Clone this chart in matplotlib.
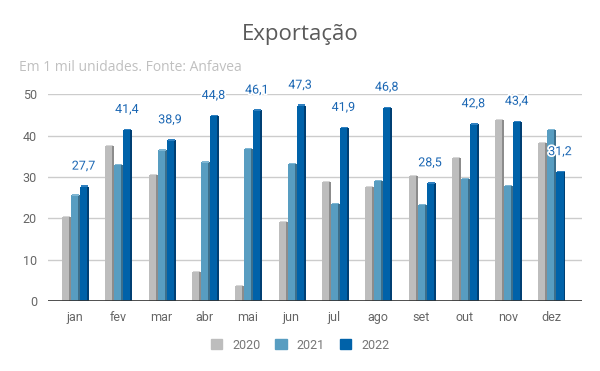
import numpy as np
import matplotlib.pyplot as plt
from matplotlib.patches import Patch
import matplotlib.patheffects as pe

meses = ['jan', 'fev', 'mar', 'abr', 'mai', 'jun', 'jul', 'ago', 'set', 'out', 'nov', 'dez']
anos = ['2020', '2021', '2022']
v2020 = [20.4, 37.5, 30.5, 7.1, 3.7, 19.2, 28.8, 27.6, 30.3, 34.6, 43.9, 38.3]
v2021 = [25.6, 32.9, 36.5, 33.6, 36.8, 33.2, 23.5, 29.1, 23.3, 29.6, 27.9, 41.4]
v2022 = [27.7, 41.4, 38.9, 44.8, 46.1, 47.3, 41.9, 46.8, 28.5, 42.8, 43.4, 31.2]

cores = ['#bdbdbd', '#589dc1', '#0062a9']
laterais = ['#8c8c8c', '#3c6f8c', '#003f73']
topos = ['#d6d6d6', '#7fb6d3', '#2f80c0']

fig = plt.figure(figsize=(6, 3.71), dpi=100)
ax = fig.add_axes([0.08, 0.1887, 0.89, 0.557])

x = np.arange(len(meses))
passo = 0.208
larg = 0.162
lado = 0.046

for i, serie in enumerate([v2020, v2021, v2022]):
    pos = x + (i - 1) * passo
    # face lateral (efeito 3D)
    ax.bar(pos + larg / 2 + lado / 2, serie, width=lado, color=laterais[i], zorder=3)
    ax.bar(pos, serie, width=larg, color=cores[i], zorder=3)
    # tampa superior
    ax.bar(pos + lado / 2, 0.35, width=larg, bottom=np.array(serie) - 0.1,
           color=topos[i], zorder=4)

# rótulos da série 2022
for xi, v in zip(x + passo, v2022):
    t = ax.annotate(f'{v:.1f}'.replace('.', ','), (xi, v), xytext=(0, 10),
                    textcoords='offset points', ha='center', va='bottom',
                    fontsize=9, color='#1a66b3', family='Roboto',
                    zorder=6, annotation_clip=False)
    t.set_path_effects([pe.withStroke(linewidth=2.5, foreground='white')])

ax.set_xlim(-0.612, 11.716)
ax.set_ylim(0, 50)
ax.set_yticks([0, 10, 20, 30, 40, 50])
ax.set_xticks(x)
ax.set_xticklabels(meses)
ax.grid(axis='y', color='#cccccc', linewidth=1, zorder=0)
ax.axhline(0, color='#333333', linewidth=1.2, zorder=5)
for s in ax.spines.values():
    s.set_visible(False)
ax.tick_params(length=0, colors='#666666', labelsize=9, pad=7)
ax.tick_params(axis='y', pad=8)
for lab in ax.get_xticklabels() + ax.get_yticklabels():
    lab.set_family('Roboto')

fig.text(0.5, 0.906, 'Exportação', ha='center', va='center', fontsize=16,
         color='#5a5a5a', family='Open Sans')
fig.text(0.031, 0.817, 'Em 1 mil unidades. Fonte: Anfavea', ha='left', va='center',
         fontsize=10, color='#c0c0c0', family='Open Sans')

handles = [Patch(color=c, label=a) for c, a in zip(cores, anos)]
fig.legend(handles=handles, loc='center', bbox_to_anchor=(0.5, 0.07), ncol=3,
           frameon=False, handlelength=0.9, handleheight=0.9, handletextpad=0.8,
           columnspacing=1.2, prop={'family': 'Roboto', 'size': 9}, labelcolor='#777777')

fig.savefig('out.png', dpi=100)
